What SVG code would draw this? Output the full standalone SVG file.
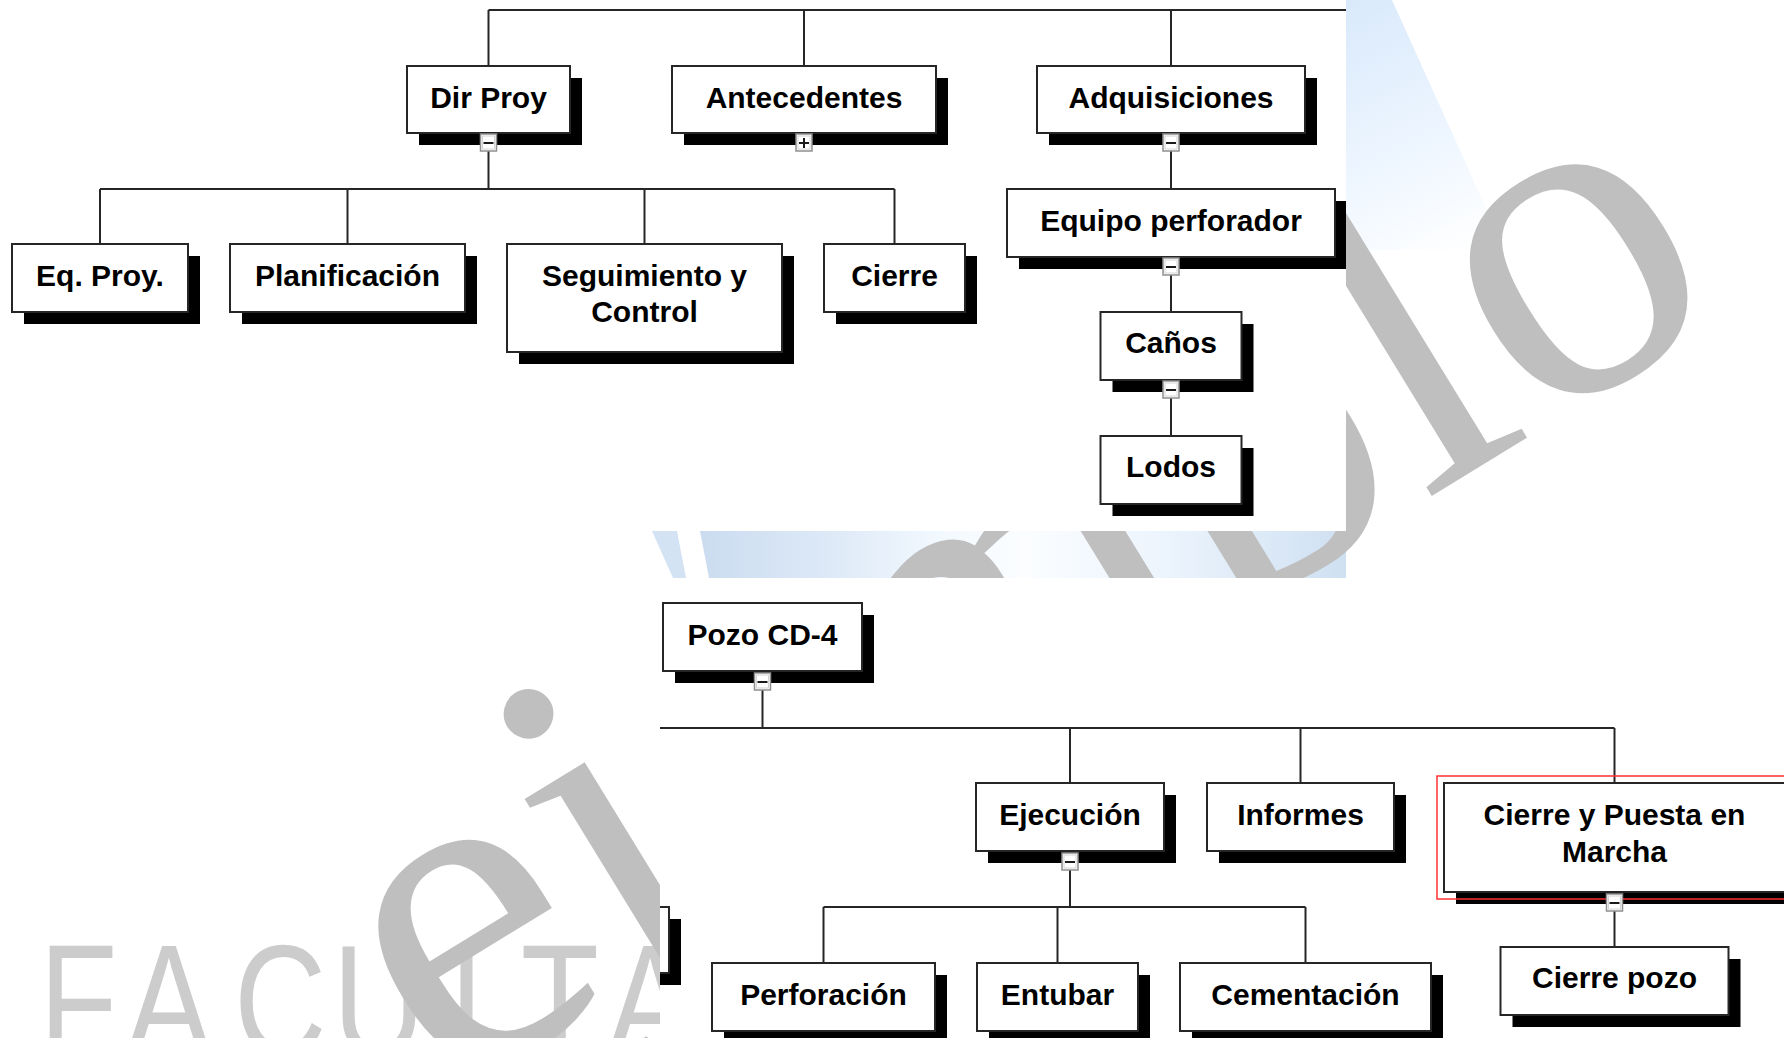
<svg xmlns="http://www.w3.org/2000/svg" width="1784" height="1038" viewBox="0 0 1784 1038">
<defs>
<style>
.box{fill:#fff;stroke:#262626;stroke-width:2}
.sh{fill:#000}
.lbl{font-family:"Liberation Sans",Arial,sans-serif;font-weight:bold;font-size:30px;fill:#000;text-anchor:middle}
.conn{stroke:#262626;stroke-width:2;fill:none}
.ico{fill:#fff;stroke:#8f8f8f;stroke-width:1.5}
.ico2{fill:none;stroke:#d4d4d4;stroke-width:1}
.sign{stroke:#1a1a1a;stroke-width:2}
.wm{font-family:"Liberation Serif","Times New Roman",serif;font-size:470px;fill:#bfbfbf}
.fac{font-family:"Liberation Sans",Arial,sans-serif;font-size:160px;fill:#cccccc}
</style>
<linearGradient id="gTR" x1="1346" y1="0" x2="1470" y2="250" gradientUnits="userSpaceOnUse">
<stop offset="0" stop-color="#d9e9fb"/><stop offset="0.6" stop-color="#eef6ff"/><stop offset="1" stop-color="#ffffff"/>
</linearGradient>
<linearGradient id="gMid" x1="700" y1="0" x2="1346" y2="0" gradientUnits="userSpaceOnUse">
<stop offset="0" stop-color="#cbdcf0"/><stop offset="0.2" stop-color="#dde9f7"/><stop offset="0.38" stop-color="#f3f9ff"/><stop offset="0.5" stop-color="#fbfdff"/><stop offset="0.72" stop-color="#ecf4fd"/><stop offset="1" stop-color="#cfe0f2"/>
</linearGradient>
<clipPath id="clipTop"><rect x="0" y="0" width="1346" height="531"/></clipPath>
<clipPath id="clipBot"><rect x="660" y="578" width="1124" height="460"/></clipPath>
</defs>
<rect x="0" y="0" width="1784" height="1038" fill="#fff"/>
<g id="watermark">
<polygon points="1346,0 1392,0 1505,250 1346,250" fill="url(#gTR)"/>
<polygon points="652,531 677,531 686,578 673,578" fill="#d4e3f3"/>
<polygon points="700,531 1346,531 1346,578 709,578" fill="url(#gMid)"/>
<text class="fac" transform="scale(0.8 1)" x="49 157.5 292.5 416 562.5 651 759" y="1056">FACULTA</text>
<text class="wm" transform="translate(444.6 1101) rotate(-31.5)">ejemplo</text>
</g>
<g id="sheet-top" clip-path="url(#clipTop)">
<rect x="0" y="0" width="1346" height="531" fill="#fff"/>
<g id="connectors-top">
<path class="conn" d="M488.5 10H1350M488.5 10V66M804 10V66M1171 10V66M488.5 151V189M100 189H894.5M100 189V244M347.5 189V244M644.5 189V244M894.5 189V244M1171 151V189M1171 275V312M1171 398V436"/>
</g>
<g id="n-dirproy"><rect class="sh" x="419" y="78" width="163" height="67"/><rect class="box" x="407" y="66" width="163" height="67"/><text class="lbl" x="488.5" y="107.5">Dir Proy</text><rect class="ico" x="480.5" y="134" width="16" height="17"/><rect class="ico2" x="482.5" y="136" width="12" height="13"/><line class="sign" x1="483.5" y1="143" x2="493.5" y2="143"/></g>
<g id="n-antecedentes"><rect class="sh" x="684" y="78" width="264" height="67"/><rect class="box" x="672" y="66" width="264" height="67"/><text class="lbl" x="804" y="107.5">Antecedentes</text><rect class="ico" x="796" y="134" width="16" height="17"/><rect class="ico2" x="798" y="136" width="12" height="13"/><line class="sign" x1="799" y1="143" x2="809" y2="143"/><line class="sign" x1="804" y1="138" x2="804" y2="148"/></g>
<g id="n-adquisiciones"><rect class="sh" x="1049" y="78" width="268" height="67"/><rect class="box" x="1037" y="66" width="268" height="67"/><text class="lbl" x="1171" y="107.5">Adquisiciones</text><rect class="ico" x="1163" y="134" width="16" height="17"/><rect class="ico2" x="1165" y="136" width="12" height="13"/><line class="sign" x1="1166" y1="143" x2="1176" y2="143"/></g>
<g id="n-eqproy"><rect class="sh" x="24" y="256" width="176" height="68"/><rect class="box" x="12" y="244" width="176" height="68"/><text class="lbl" x="100" y="285.5">Eq. Proy.</text></g>
<g id="n-planificacion"><rect class="sh" x="242" y="256" width="235" height="68"/><rect class="box" x="230" y="244" width="235" height="68"/><text class="lbl" x="347.5" y="285.5">Planificación</text></g>
<g id="n-seguimiento"><rect class="sh" x="519" y="256" width="275" height="108"/><rect class="box" x="507" y="244" width="275" height="108"/><text class="lbl" x="644.5" y="285.5">Seguimiento y</text><text class="lbl" x="644.5" y="321.5">Control</text></g>
<g id="n-cierre"><rect class="sh" x="836" y="256" width="141" height="68"/><rect class="box" x="824" y="244" width="141" height="68"/><text class="lbl" x="894.5" y="285.5">Cierre</text></g>
<g id="n-equipo"><rect class="sh" x="1019" y="201" width="328" height="68"/><rect class="box" x="1007" y="189" width="328" height="68"/><text class="lbl" x="1171" y="230.5">Equipo perforador</text><rect class="ico" x="1163" y="258" width="16" height="17"/><rect class="ico2" x="1165" y="260" width="12" height="13"/><line class="sign" x1="1166" y1="267" x2="1176" y2="267"/></g>
<g id="n-canos"><rect class="sh" x="1112.5" y="324" width="141" height="68"/><rect class="box" x="1100.5" y="312" width="141" height="68"/><text class="lbl" x="1171" y="353">Caños</text><rect class="ico" x="1163" y="381" width="16" height="17"/><rect class="ico2" x="1165" y="383" width="12" height="13"/><line class="sign" x1="1166" y1="390" x2="1176" y2="390"/></g>
<g id="n-lodos"><rect class="sh" x="1112.5" y="448" width="141" height="68"/><rect class="box" x="1100.5" y="436" width="141" height="68"/><text class="lbl" x="1171" y="477">Lodos</text></g>
</g>
<g id="sheet-bottom" clip-path="url(#clipBot)">
<rect x="660" y="578" width="1124" height="460" fill="#fff"/>
<g id="connectors-bottom">
<path class="conn" d="M762.5 690V728M655 728H1614.5M1070 728V783M1300.5 728V783M1614.5 728V783M1070 870V907M823.5 907H1305.5M823.5 907V963M1057.5 907V963M1305.5 907V963M1614.5 911V947"/>
</g>
<g id="n-fragment"><rect class="sh" x="612" y="919" width="69" height="66"/><rect class="box" x="600" y="907" width="69" height="66"/></g>
<g id="n-pozo"><rect class="sh" x="675" y="615" width="199" height="68"/><rect class="box" x="663" y="603" width="199" height="68"/><text class="lbl" x="762.5" y="644.5">Pozo CD-4</text><rect class="ico" x="754.5" y="673" width="16" height="17"/><rect class="ico2" x="756.5" y="675" width="12" height="13"/><line class="sign" x1="757.5" y1="682" x2="767.5" y2="682"/></g>
<g id="n-ejecucion"><rect class="sh" x="988" y="795" width="188" height="68"/><rect class="box" x="976" y="783" width="188" height="68"/><text class="lbl" x="1070" y="824.5">Ejecución</text><rect class="ico" x="1062" y="853" width="16" height="17"/><rect class="ico2" x="1064" y="855" width="12" height="13"/><line class="sign" x1="1065" y1="862" x2="1075" y2="862"/></g>
<g id="n-informes"><rect class="sh" x="1219" y="795" width="187" height="68"/><rect class="box" x="1207" y="783" width="187" height="68"/><text class="lbl" x="1300.5" y="824.5">Informes</text></g>
<g id="n-cierrepuesta"><rect class="sh" x="1456" y="795" width="341" height="109"/><rect class="box" x="1444" y="783" width="341" height="109"/><text class="lbl" x="1614.5" y="825">Cierre y Puesta en</text><text class="lbl" x="1614.5" y="861.5">Marcha</text><rect x="1437" y="776" width="400" height="123" fill="none" stroke="#ff3030" stroke-width="1.5"/><rect class="ico" x="1606.5" y="894" width="16" height="17"/><rect class="ico2" x="1608.5" y="896" width="12" height="13"/><line class="sign" x1="1609.5" y1="903" x2="1619.5" y2="903"/></g>
<g id="n-perforacion"><rect class="sh" x="724" y="975" width="223" height="68"/><rect class="box" x="712" y="963" width="223" height="68"/><text class="lbl" x="823.5" y="1004.5">Perforación</text></g>
<g id="n-entubar"><rect class="sh" x="989" y="975" width="161" height="68"/><rect class="box" x="977" y="963" width="161" height="68"/><text class="lbl" x="1057.5" y="1004.5">Entubar</text></g>
<g id="n-cementacion"><rect class="sh" x="1192" y="975" width="251" height="68"/><rect class="box" x="1180" y="963" width="251" height="68"/><text class="lbl" x="1305.5" y="1004.5">Cementación</text></g>
<g id="n-cierrepozo"><rect class="sh" x="1512.5" y="959" width="228" height="68"/><rect class="box" x="1500.5" y="947" width="228" height="68"/><text class="lbl" x="1614.5" y="988">Cierre pozo</text></g>
</g>
</svg>
